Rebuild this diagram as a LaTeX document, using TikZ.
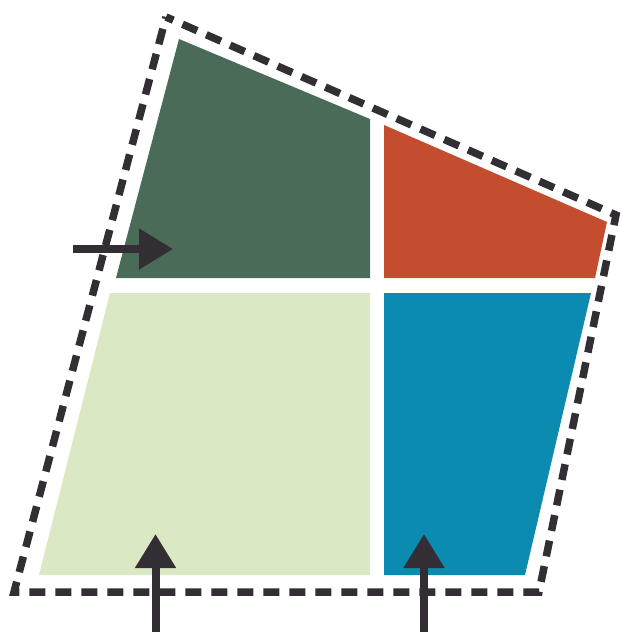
\documentclass[tikz,border=0pt]{standalone}
\usepackage{tikz}
\usetikzlibrary{arrows.meta}
\definecolor{inkdark}{RGB}{50,46,51}
\definecolor{pinegreen}{RGB}{73,107,87}
\definecolor{rustred}{RGB}{195,77,46}
\definecolor{palegreen}{RGB}{218,232,196}
\definecolor{seablue}{RGB}{12,139,176}

\begin{document}
\begin{tikzpicture}[x=1pt, y=-1pt,
  outline/.style={draw=inkdark, line width=7.5pt, dash pattern=on 16pt off 10pt,
                  dash phase=8pt, line join=miter},
  pointer/.style={draw=inkdark, line width=8pt, -{Triangle[length=34pt, width=39pt]}}
]
\useasboundingbox (0,0) rectangle (621,632);

% quadrants
\fill[pinegreen] (179,39) -- (370,119) -- (370,278) -- (116,278) -- cycle;
\fill[rustred]   (384,125) -- (607,222) -- (595,278) -- (384,278) -- cycle;
\fill[palegreen] (110,293) -- (370,293) -- (370,575) -- (39,575) -- cycle;
\fill[seablue]   (384,293) -- (591,293) -- (525,575) -- (384,575) -- cycle;

% dashed border
\draw[outline] (166,17) -- (616,215) -- (539,592) -- (14,592) -- cycle;

% arrows
\coordinate (leftin)   at (73,249);
\coordinate (lefttip)  at (173,249);
\coordinate (lowin)    at (155.5,632);
\coordinate (lowtip)   at (155.5,534);
\coordinate (rightin)  at (424,632);
\coordinate (righttip) at (424,534);
\draw[pointer] (leftin) -- (lefttip);
\draw[pointer] (lowin) -- (lowtip);
\draw[pointer] (rightin) -- (righttip);
\end{tikzpicture}
\end{document}
